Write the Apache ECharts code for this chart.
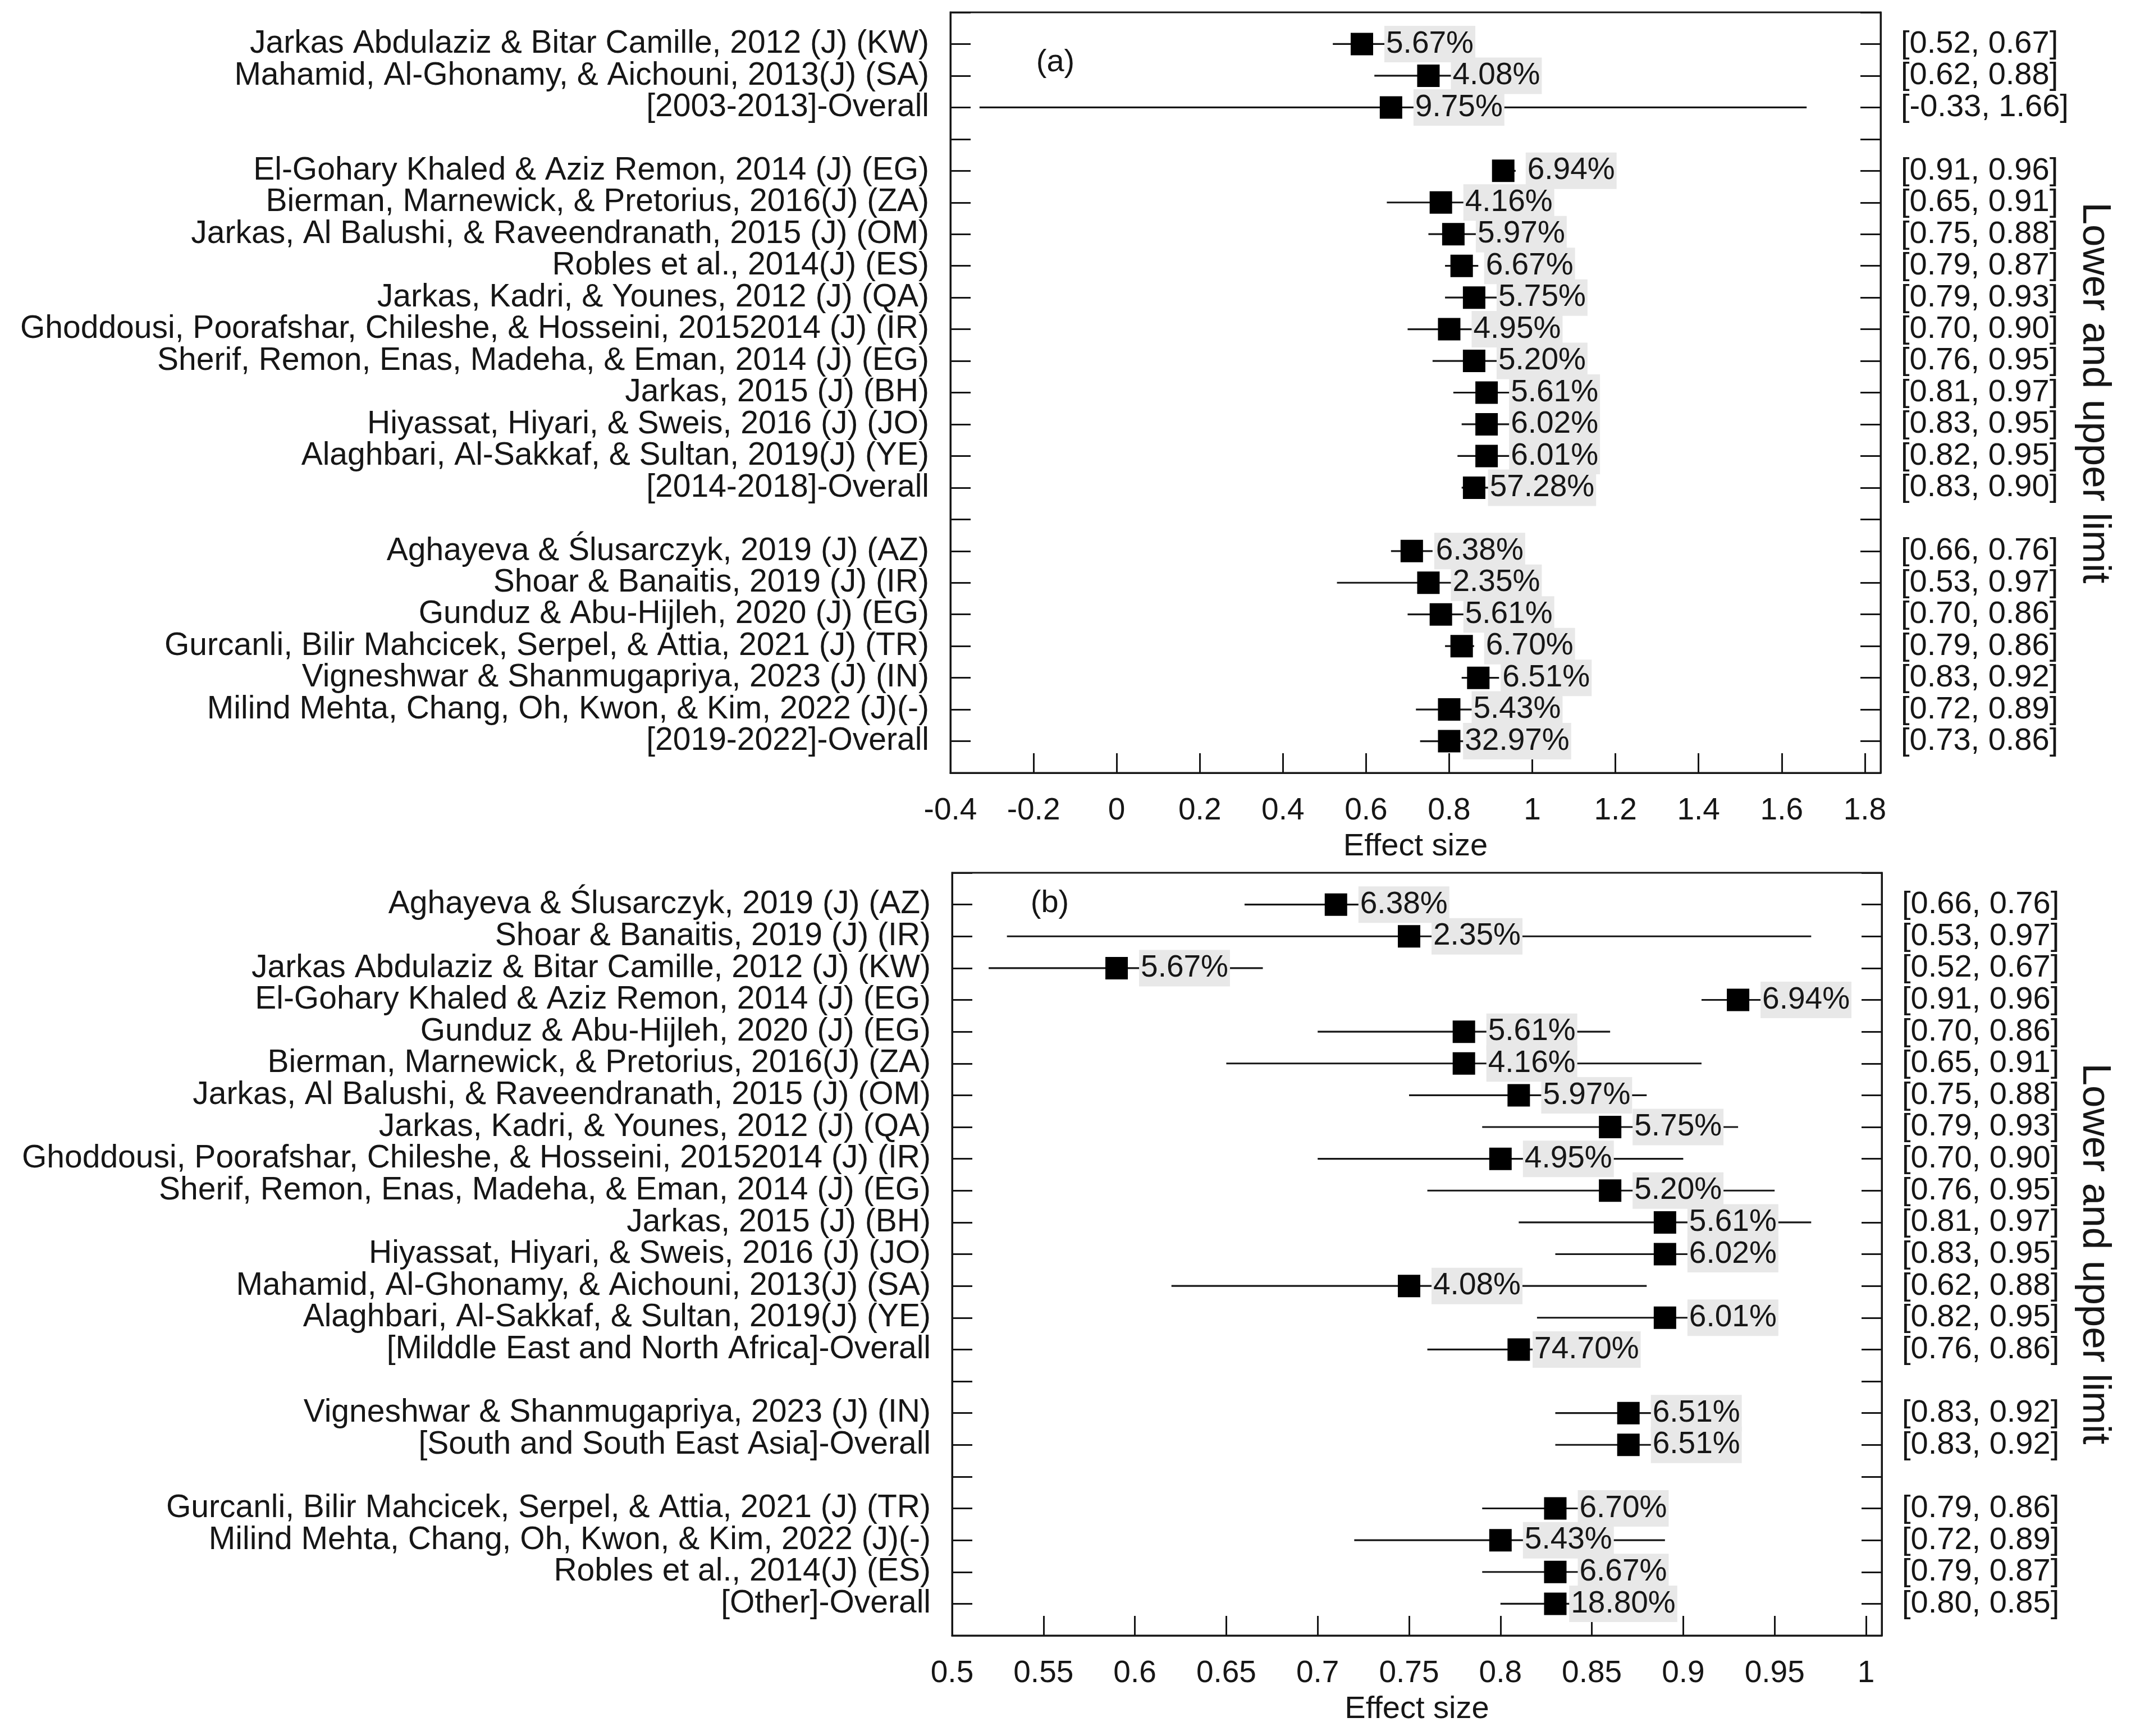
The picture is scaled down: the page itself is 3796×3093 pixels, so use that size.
<!DOCTYPE html>
<html>
<head>
<meta charset="utf-8">
<script src="https://cdn.jsdelivr.net/npm/echarts@6/dist/echarts.min.js"></script>
<style>
html,body{margin:0;padding:0;background:#fff;}
#chart{width:3796px;height:3093px;}
</style>
</head>
<body>
<div id="chart"></div>
<script>
// ---------- Panel (a) data ----------
const namesA = [
  'Jarkas Abdulaziz & Bitar Camille, 2012 (J) (KW)',
  'Mahamid, Al-Ghonamy, & Aichouni, 2013(J) (SA)',
  '[2003-2013]-Overall',
  '',
  'El-Gohary Khaled & Aziz Remon, 2014 (J) (EG)',
  'Bierman, Marnewick, & Pretorius, 2016(J) (ZA)',
  'Jarkas, Al Balushi, & Raveendranath, 2015 (J) (OM)',
  'Robles et al., 2014(J) (ES)',
  'Jarkas, Kadri, & Younes, 2012 (J) (QA)',
  'Ghoddousi, Poorafshar, Chileshe, & Hosseini, 20152014 (J) (IR)',
  'Sherif, Remon, Enas, Madeha, & Eman, 2014 (J) (EG)',
  'Jarkas, 2015 (J) (BH)',
  'Hiyassat, Hiyari, & Sweis, 2016 (J) (JO)',
  'Alaghbari, Al-Sakkaf, & Sultan, 2019(J) (YE)',
  '[2014-2018]-Overall',
  '',
  'Aghayeva & Ślusarczyk, 2019 (J) (AZ)',
  'Shoar & Banaitis, 2019 (J) (IR)',
  'Gunduz & Abu-Hijleh, 2020 (J) (EG)',
  'Gurcanli, Bilir Mahcicek, Serpel, & Attia, 2021 (J) (TR)',
  'Vigneshwar & Shanmugapriya, 2023 (J) (IN)',
  'Milind Mehta, Chang, Oh, Kwon, & Kim, 2022 (J)(-)',
  '[2019-2022]-Overall'
];
const effectA = [0.59, 0.75, 0.66, null, 0.93, 0.78, 0.81, 0.83, 0.86, 0.80, 0.86, 0.89, 0.89, 0.89, 0.86, null, 0.71, 0.75, 0.78, 0.83, 0.87, 0.80, 0.80];
const lowerA  = [0.52, 0.62, -0.33, null, 0.91, 0.65, 0.75, 0.79, 0.79, 0.70, 0.76, 0.81, 0.83, 0.82, 0.83, null, 0.66, 0.53, 0.70, 0.79, 0.83, 0.72, 0.73];
const upperA  = [0.67, 0.88, 1.66, null, 0.96, 0.91, 0.88, 0.87, 0.93, 0.90, 0.95, 0.97, 0.95, 0.95, 0.90, null, 0.76, 0.97, 0.86, 0.86, 0.92, 0.89, 0.86];
const weightsA = ['5.67%','4.08%','9.75%','','6.94%','4.16%','5.97%','6.67%','5.75%','4.95%','5.20%','5.61%','6.02%','6.01%','57.28%','','6.38%','2.35%','5.61%','6.70%','6.51%','5.43%','32.97%'];
const xTicksA = {min: -0.4, max: 1.838, interval: 0.2};

// ---------- Panel (b) data ----------
const namesB = [
  'Aghayeva & Ślusarczyk, 2019 (J) (AZ)',
  'Shoar & Banaitis, 2019 (J) (IR)',
  'Jarkas Abdulaziz & Bitar Camille, 2012 (J) (KW)',
  'El-Gohary Khaled & Aziz Remon, 2014 (J) (EG)',
  'Gunduz & Abu-Hijleh, 2020 (J) (EG)',
  'Bierman, Marnewick, & Pretorius, 2016(J) (ZA)',
  'Jarkas, Al Balushi, & Raveendranath, 2015 (J) (OM)',
  'Jarkas, Kadri, & Younes, 2012 (J) (QA)',
  'Ghoddousi, Poorafshar, Chileshe, & Hosseini, 20152014 (J) (IR)',
  'Sherif, Remon, Enas, Madeha, & Eman, 2014 (J) (EG)',
  'Jarkas, 2015 (J) (BH)',
  'Hiyassat, Hiyari, & Sweis, 2016 (J) (JO)',
  'Mahamid, Al-Ghonamy, & Aichouni, 2013(J) (SA)',
  'Alaghbari, Al-Sakkaf, & Sultan, 2019(J) (YE)',
  '[Milddle East and North Africa]-Overall',
  '',
  'Vigneshwar & Shanmugapriya, 2023 (J) (IN)',
  '[South and South East Asia]-Overall',
  '',
  'Gurcanli, Bilir Mahcicek, Serpel, & Attia, 2021 (J) (TR)',
  'Milind Mehta, Chang, Oh, Kwon, & Kim, 2022 (J)(-)',
  'Robles et al., 2014(J) (ES)',
  '[Other]-Overall'
];
const effectB = [0.71, 0.75, 0.59, 0.93, 0.78, 0.78, 0.81, 0.86, 0.80, 0.86, 0.89, 0.89, 0.75, 0.89, 0.81, null, 0.87, 0.87, null, 0.83, 0.80, 0.83, 0.83];
const lowerB  = [0.66, 0.53, 0.52, 0.91, 0.70, 0.65, 0.75, 0.79, 0.70, 0.76, 0.81, 0.83, 0.62, 0.82, 0.76, null, 0.83, 0.83, null, 0.79, 0.72, 0.79, 0.80];
const upperB  = [0.76, 0.97, 0.67, 0.96, 0.86, 0.91, 0.88, 0.93, 0.90, 0.95, 0.97, 0.95, 0.88, 0.95, 0.86, null, 0.92, 0.92, null, 0.86, 0.89, 0.87, 0.85];
const weightsB = ['6.38%','2.35%','5.67%','6.94%','5.61%','4.16%','5.97%','5.75%','4.95%','5.20%','5.61%','6.02%','4.08%','6.01%','74.70%','','6.51%','6.51%','','6.70%','5.43%','6.67%','18.80%'];
const xTicksB = {min: 0.5, max: 1.0086, interval: 0.05};

// ---------- Styling ----------
const FONT = '"Liberation Sans", Arial, Helvetica, sans-serif';
const INK = '#161616';

const grids = [
  {left: 1693, top: 22, width: 1657, height: 1355},
  {left: 1696, top: 1555, width: 1656, height: 1359}
];

function ciText(lo, hi, i) {
  if (lo[i] == null) return '';
  return '[' + lo[i].toFixed(2) + ', ' + hi[i].toFixed(2) + ']';
}

function buildPanel(gi, names, eff, lo, hi, wts, xt) {
  const n = names.length;
  const xAxis = {
    type: 'value', gridIndex: gi, min: xt.min, max: xt.max, interval: xt.interval,
    position: 'bottom',
    axisLine: {show: true, onZero: false, lineStyle: {color: INK, width: 3}},
    axisTick: {show: true, inside: true, length: 35, lineStyle: {color: INK, width: 3}},
    axisLabel: {show: true, margin: 40, fontSize: 55, fontFamily: FONT, color: INK,
      showMaxLabel: false,
      formatter: v => String(Math.round(v * 100) / 100)},
    splitLine: {show: false},
    name: 'Effect size', nameLocation: 'middle', nameGap: 104, nameMoveOverlap: false,
    nameTextStyle: {fontSize: 56, fontFamily: FONT, color: INK}
  };
  const yLeft = {
    type: 'value', gridIndex: gi, min: 0, max: n + 1, interval: 1, inverse: true, position: 'left',
    axisLine: {show: true, onZero: false, lineStyle: {color: INK, width: 3}},
    axisTick: {show: true, inside: true, length: 36, lineStyle: {color: INK, width: 3}},
    axisLabel: {show: true, margin: 38, fontSize: 57, fontFamily: FONT, color: INK,
      formatter: v => (v >= 1 && v <= n) ? names[v - 1] : ''},
    splitLine: {show: false}
  };
  const yRight = {
    type: 'value', gridIndex: gi, min: 0, max: n + 1, interval: 1, inverse: true, position: 'right',
    axisLine: {show: true, onZero: false, lineStyle: {color: INK, width: 3}},
    axisTick: {show: true, inside: true, length: 36, lineStyle: {color: INK, width: 3}},
    axisLabel: {show: true, margin: 36, fontSize: 56, fontFamily: FONT, color: INK,
      formatter: v => (v >= 1 && v <= n) ? ciText(lo, hi, v - 1) : ''},
    splitLine: {show: false}
  };
  const lineData = [], ptData = [];
  for (let i = 0; i < n; i++) {
    if (eff[i] == null) continue;
    lineData.push([lo[i], hi[i], i + 1]);
    ptData.push([eff[i], i + 1, i]);
  }
  return {xAxis, yLeft, yRight, lineData, ptData, wts};
}

const pA = buildPanel(0, namesA, effectA, lowerA, upperA, weightsA, xTicksA);
const pB = buildPanel(1, namesB, effectB, lowerB, upperB, weightsB, xTicksB);

const SQ = 40;
function seriesFor(p, gi) {
  return [
    {
      type: 'custom', xAxisIndex: gi, yAxisIndex: gi * 2, z: 2, silent: true,
      renderItem: function (params, api) {
        const a = api.coord([api.value(0), api.value(2)]);
        const b = api.coord([api.value(1), api.value(2)]);
        return {type: 'line', shape: {x1: a[0], y1: a[1], x2: b[0], y2: b[1]},
          style: {stroke: INK, lineWidth: 3.2}};
      },
      data: p.lineData
    },
    {
      type: 'scatter', xAxisIndex: gi, yAxisIndex: gi * 2, z: 3, silent: true,
      symbol: 'rect', symbolSize: SQ,
      itemStyle: {color: '#000', opacity: 1},
      label: {
        show: true, position: [SQ / 2 + 121, SQ / 2], align: 'center', verticalAlign: 'middle',
        formatter: prm => p.wts[prm.data[2]],
        fontSize: 55, fontFamily: FONT, color: INK, lineHeight: 57,
        backgroundColor: '#e8e8e8', padding: [4, 3, 4, 3]
      },
      data: p.ptData
    }
  ];
}

const chart = echarts.init(document.getElementById('chart'), null, {renderer: 'canvas'});
chart.setOption({
  animation: false,
  backgroundColor: '#ffffff',
  grid: grids.map(g => Object.assign({show: true, borderColor: INK, borderWidth: 3,
    backgroundColor: 'transparent', containLabel: false, outerBoundsMode: 'none'}, g)),
  xAxis: [pA.xAxis, pB.xAxis],
  yAxis: [pA.yLeft, pA.yRight, pB.yLeft, pB.yRight],
  series: [].concat(seriesFor(pA, 0), seriesFor(pB, 1)),
  graphic: [
    {type: 'text', x: 1880, y: 112, style: {text: '(a)', font: '56px ' + FONT, fill: INK,
      align: 'center', verticalAlign: 'middle', textAlign: 'center', textVerticalAlign: 'middle'}},
    {type: 'text', x: 1870, y: 1610, style: {text: '(b)', font: '56px ' + FONT, fill: INK,
      align: 'center', verticalAlign: 'middle', textAlign: 'center', textVerticalAlign: 'middle'}},
    {type: 'text', x: 3731, y: 700, rotation: -Math.PI / 2,
      style: {text: 'Lower and upper limit', font: '71px ' + FONT, fill: INK,
      align: 'center', verticalAlign: 'middle', textAlign: 'center', textVerticalAlign: 'middle'}},
    {type: 'text', x: 3731, y: 2234, rotation: -Math.PI / 2,
      style: {text: 'Lower and upper limit', font: '71px ' + FONT, fill: INK,
      align: 'center', verticalAlign: 'middle', textAlign: 'center', textVerticalAlign: 'middle'}}
  ]
});
</script>
</body>
</html>
